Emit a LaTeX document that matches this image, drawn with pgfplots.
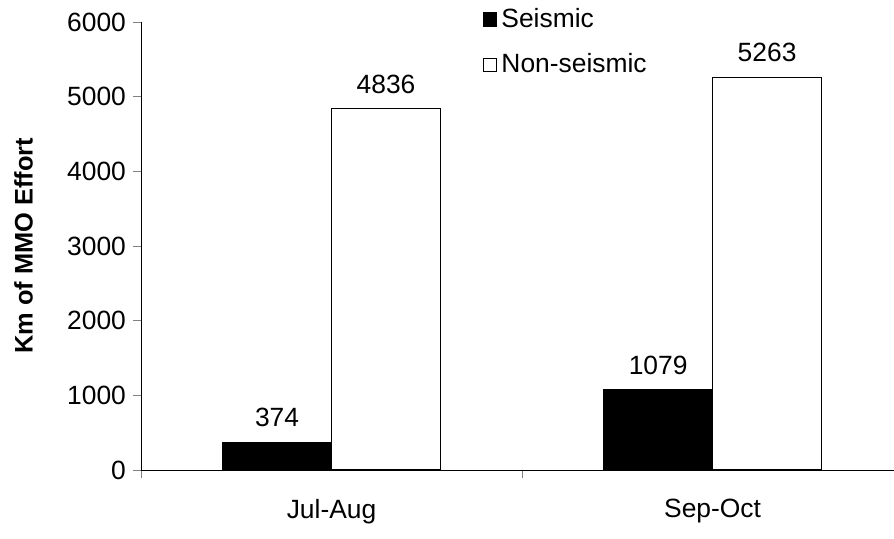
\documentclass[border=0pt]{standalone}
\usepackage{fontspec}
\setmainfont{Liberation Sans}
\usepackage{pgfplots}
\pgfplotsset{compat=1.18}

\begin{document}
\begin{tikzpicture}[font=\fontsize{13.2}{15.5}\selectfont]
\begin{axis}[
    at={(0,0)}, anchor=south west,
    scale only axis,
    width=376.5pt, height=224pt,
    xmin=-0.5, xmax=1.476,
    ymin=0, ymax=6000,
    axis lines*=left,
    tick align=outside,
    major tick length=4pt,
    ytick={0,1000,...,6000},
    xtick={-0.5,0.5},
    xticklabels={},
    extra x ticks={0,1},
    extra x tick labels={Jul-Aug,Sep-Oct},
    extra x tick style={major tick length=0pt,
        xticklabel style={yshift=-11pt}},
    /pgf/number format/1000 sep={},
    /pgf/number format/assume math mode=true,
    ylabel={\bfseries Km of MMO Effort},
    every axis y label/.style={at={(axis description cs:-0.156,0.5)},
        rotate=90, anchor=center, font=\fontsize{12.7}{15}\selectfont},
    ybar=0pt,
    bar width=0.286,
    nodes near coords,
    nodes near coords style={yshift=4pt, font=\fontsize{13.2}{15.5}\selectfont},
    legend style={at={(axis description cs:0.454,1.04)}, anchor=north west,
        draw=none, fill=none, inner sep=0pt, row sep=7.5pt,
        font=\fontsize{13.2}{15.5}\selectfont},
    legend cell align=left,
    legend image code/.code={\draw[#1, line width=0.5pt] (0pt,-3.3pt) rectangle (6.6pt,3.3pt);},
]
\addplot[draw=black, fill=black, line width=0.5pt] coordinates {(0,374) (1,1079)};
\addplot[draw=black, fill=white, line width=0.5pt] coordinates {(0,4836) (1,5263)};
\legend{Seismic, Non-seismic}
\end{axis}
\pgfresetboundingbox
\useasboundingbox (-70.5pt,-34.5pt) rectangle (376.5pt,235pt);
\end{tikzpicture}
\end{document}
